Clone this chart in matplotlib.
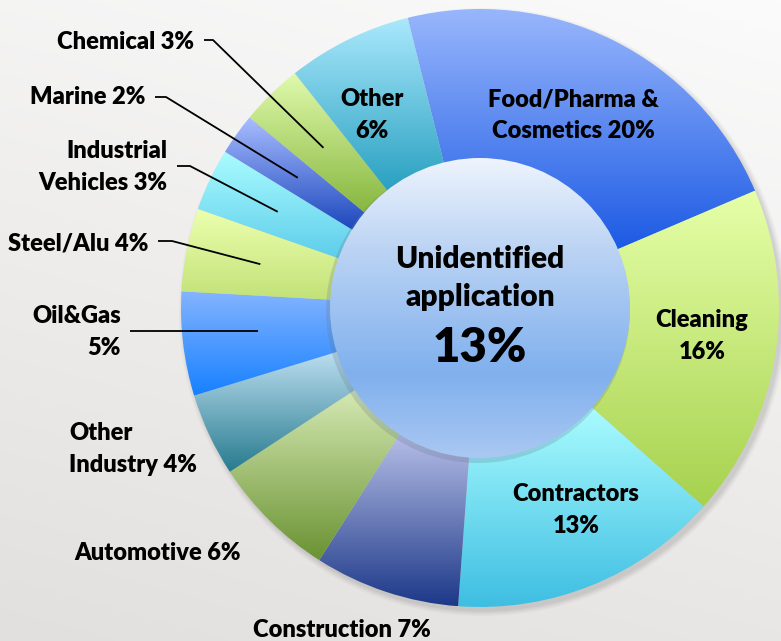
import numpy as np
import matplotlib.pyplot as plt
from matplotlib.colors import to_rgb
from matplotlib.patches import Circle

plt.rcParams['font.family'] = ['Lato', 'DejaVu Sans']

# data
categories = ['Food/Pharma & Cosmetics', 'Cleaning', 'Contractors', 'Construction',
              'Automotive', 'Other Industry', 'Oil&Gas', 'Steel/Alu',
              'Industrial Vehicles', 'Marine', 'Chemical', 'Other']
shares = [20, 16, 13, 7, 6, 4, 5, 4, 3, 2, 3, 6]
unidentified = 13
label_fmt = ['Food/Pharma &\nCosmetics {}%', 'Cleaning\n{}%', 'Contractors\n{}%',
             'Construction {}%', 'Automotive {}%', 'Other\nIndustry {}%',
             'Oil&Gas\n{}%', 'Steel/Alu {}%', 'Industrial\nVehicles {}%',
             'Marine {}%', 'Chemical {}%', 'Other\n{}%']

# gradient colours per slice (top, bottom)
top_cols = ['#98b6fc', '#e6ffa8', '#aafcff', '#b8c0e8', '#d6eab4', '#bcdff0',
            '#84b4ff', '#ecffae', '#aafcff', '#aabdff', '#e0faac', '#aae8fc']
bot_cols = ['#1c5ae4', '#a6d24e', '#3ebee2', '#1c3888', '#6a9232', '#277a8e',
            '#1680ff', '#c2e278', '#5ecdeb', '#1a46bc', '#86b63e', '#28a0c0']

# layout (image pixel coords, y from top)
W, H = 781, 641
cx, cy = 480, 308
R_out, R_in = 299, 150
label_pos = [(573, 115, 'center'), (702, 336, 'center'), (576, 510, 'center'),
             (342, 630, 'center'), (158, 553, 'center'), (69, 449, 'left'),
             (121, 332, 'right'), (148, 243, 'right'), (167, 167, 'right'),
             (145, 97, 'right'), (194, 42, 'right'), (372, 115, 'center')]
# leader lines: slice index -> (start x, start y, horizontal run; None = straight)
leaders = {10: (204, 40, 9), 9: (155, 97, 11), 8: (177, 166, 13),
           7: (158, 241, 14), 6: (130, 331, None)}


def Y(y):
    return H - y


fig = plt.figure(figsize=(W / 100, H / 100), dpi=100)
ax = fig.add_axes([0, 0, 1, 1])

# background
gy = np.linspace(0, 1, 200)[:, None]
gx = np.linspace(0, 1, 200)[None, :]
t = np.clip(0.75 * (1 - gy) + 0.25 * (1 - gx), 0, 1)
c0, c1 = np.array(to_rgb('#fbfbfb')), np.array(to_rgb('#e2e0de'))
bg = c0 * (1 - t[..., None]) + c1 * t[..., None]
ax.imshow(bg, extent=(0, W, 0, H), origin='lower', zorder=0, aspect='auto')

# soft shadow
for k, a in enumerate([0.04, 0.05, 0.06, 0.07]):
    ax.add_patch(Circle((cx + 3, Y(cy) - 4), R_out + 5 - 1.5 * k,
                        color='#555555', alpha=a, lw=0, zorder=1))

wedges, _ = ax.pie(shares, startangle=104, counterclock=False,
                   center=(cx, Y(cy)), radius=R_out,
                   wedgeprops=dict(width=R_out - R_in + 2, lw=0))

for w, ct, cb in zip(wedges, top_cols, bot_cols):
    w.set_facecolor('none')
    w.set_zorder(2)
    ext = w.get_path().get_extents()
    s = np.linspace(0, 1, 256)[:, None]
    grad = np.array(to_rgb(cb)) * (1 - s) + np.array(to_rgb(ct)) * s
    im = ax.imshow(grad[:, None, :], extent=(ext.x0, ext.x1, ext.y0, ext.y1),
                   origin='lower', aspect='auto', zorder=2, interpolation='bilinear')
    im.set_clip_path(w)

# centre disc
ax.add_patch(Circle((cx - 2, Y(cy) - 3), R_in + 2, color='#6a7890', alpha=0.25,
                    lw=0, zorder=3))
disc = Circle((cx, Y(cy)), R_in, facecolor='none', lw=0, zorder=4)
ax.add_patch(disc)
s = np.linspace(0, 1, 256)
stops = np.array([0.0, 0.28, 0.7, 1.0])
cols = np.array([to_rgb(c) for c in ['#aac8f2', '#80b0ee', '#bcd4f4', '#eef4fd']])
grad = np.stack([np.interp(s, stops, cols[:, i]) for i in range(3)], axis=1)
im = ax.imshow(grad[:, None, :], extent=(cx - R_in, cx + R_in, Y(cy) - R_in, Y(cy) + R_in),
               origin='lower', aspect='auto', zorder=4, interpolation='bilinear')
im.set_clip_path(disc)

ax.text(cx, Y(278), 'Unidentified\napplication', ha='center', va='center',
        fontsize=21.5, fontweight='heavy', linespacing=1.4, zorder=5)
ax.text(cx, Y(348), f'{unidentified}%', ha='center', va='center',
        fontsize=34, fontweight='heavy', zorder=5)

# labels
for i, (fmt, v) in enumerate(zip(label_fmt, shares)):
    x, y, ha = label_pos[i]
    ax.text(x, Y(y), fmt.format(v), ha=ha, va='center', multialignment=ha,
            fontsize=17, fontweight='heavy', linespacing=1.55, zorder=6)

# leader lines to slice mid-angles
for i, (sx, sy, run) in leaders.items():
    w = wedges[i]
    mid = np.deg2rad((w.theta1 + w.theta2) / 2)
    tx = cx + 224 * np.cos(mid)
    ty = Y(cy) + 224 * np.sin(mid)
    if run is None:
        xs, ys = [sx, tx], [Y(sy), Y(sy)]
    else:
        xs, ys = [sx, sx + run, tx], [Y(sy), Y(sy), ty]
    ax.plot(xs, ys, color='black', lw=1.3, zorder=6, solid_capstyle='butt')

ax.set_xlim(0, W)
ax.set_ylim(0, H)
ax.set_aspect('auto')
ax.axis('off')
fig.savefig('out.png', dpi=100)
